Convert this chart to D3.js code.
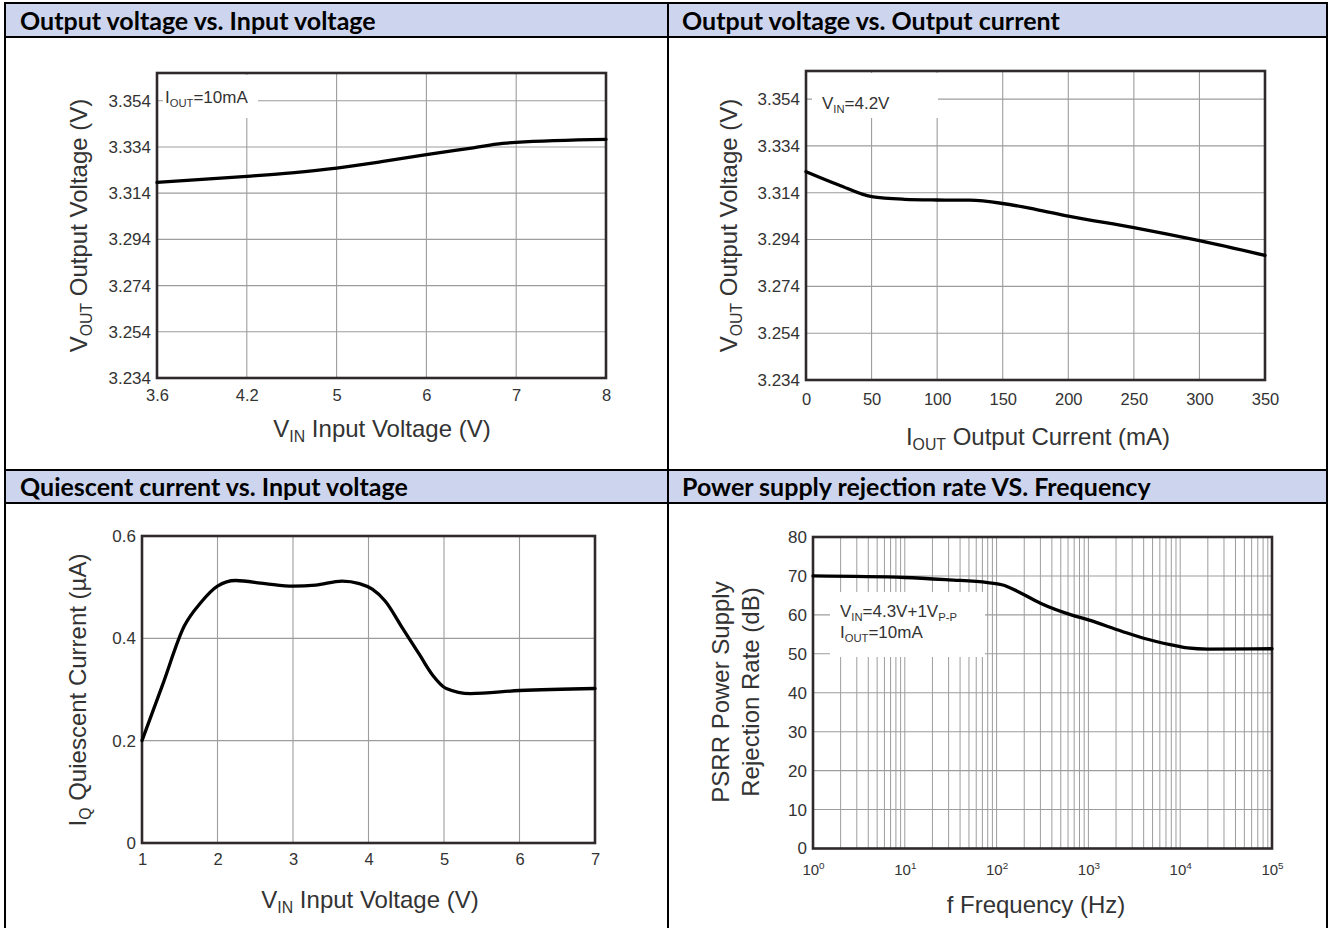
<!DOCTYPE html>
<html>
<head>
<meta charset="utf-8">
<script src="https://cdn.jsdelivr.net/npm/d3@7"></script>
<style>
  body { margin: 0; background: #fff; }
  svg { display: block; }
</style>
</head>
<body>
<svg id="page" width="1330" height="928"></svg>
<script>
// ---- values ----

const headers = [
  "Output voltage vs. Input voltage",
  "Output voltage vs. Output current",
  "Quiescent current vs. Input voltage",
  "Power supply rejection rate VS. Frequency",
];

// shared Vout axis of the two top charts
const voutTicks = [3.234, 3.254, 3.274, 3.294, 3.314, 3.334, 3.354];

// Output voltage vs. Input voltage (IOUT = 10mA)
const vinTicks = [3.6, 4.2, 5, 6, 7, 8];
const vinSweep = [3.6, 4.2, 4.6, 5, 5.5, 6, 6.5, 6.85, 7, 8];
const voutByVin = [3.3187, 3.3213, 3.3228, 3.3248, 3.3276, 3.3307, 3.3335, 3.3355, 3.336, 3.3373];

// Output voltage vs. Output current (VIN = 4.2V)
const ioutTicks = [0, 50, 100, 150, 200, 250, 300, 350];
const ioutSweep = [0, 25, 50, 75, 100, 125, 150, 175, 200, 250, 300, 350];
const voutByIout = [3.323, 3.3173, 3.3123, 3.3112, 3.3109, 3.3108, 3.3094, 3.3069, 3.304, 3.2991, 3.2935, 3.2872];

// Quiescent current vs. Input voltage
const iqVinTicks = [1, 2, 3, 4, 5, 6, 7];
const iqTicks = [0, 0.2, 0.4, 0.6];
const iqVinSweep = [1, 1.27, 1.56, 1.78, 2, 2.24, 2.63, 3, 3.3, 3.65, 3.88, 4.05, 4.22, 4.45, 4.68, 4.85, 5.03, 5.35, 6, 7];
const iqCurrent = [0.2, 0.308, 0.424, 0.47, 0.502, 0.513, 0.507, 0.502, 0.504, 0.512, 0.507, 0.496, 0.473, 0.42, 0.367, 0.328, 0.302, 0.292, 0.298, 0.302];

// PSRR vs. Frequency
const freqDecades = [1, 10, 100, 1000, 10000, 100000];
const psrrTicks = [0, 10, 20, 30, 40, 50, 60, 70, 80];
const freqSweep = [1, 10, 30, 80, 120, 170, 300, 650, 1000, 2300, 4000, 8000, 12000, 20000, 100000];
const psrrValues = [70, 69.6, 69, 68.3, 67.6, 66, 63, 60, 58.7, 55.8, 54, 52.3, 51.5, 51.2, 51.3];

// ---- look ----
const sans = "'Liberation Sans', Arial, Helvetica, sans-serif";
const inkColor = "#333";
const gridColor = "#9d9d9d";
const frameColor = "#2f2929";
const headerFill = "#cdd5ee";

const svg = d3.select("#page");

// text with sub/superscript parts: [{t, sub}, {t, sup}, {t}]
const addParts = (textSel, parts, size) => {
  let shift = 0;
  parts.forEach((p) => {
    let target = p.sub ? size * 0.22 : p.sup ? -size * 0.42 : 0;
    let ts = textSel.append("tspan").text(p.t);
    if (target - shift !== 0) ts.attr("dy", target - shift);
    if (p.sub || p.sup) ts.attr("font-size", size * 0.66);
    shift = target;
  });
};

// ---- table around the charts ----
const tableLeft = 5;
const tableRight = 1327;
const colSplit = 668;
const headerRows = [
  { top: 3, bottom: 37, base: 29.5 },
  { top: 470, bottom: 503, base: 495.5 },
];

const table = svg.append("g").attr("id", "table");

headerRows.forEach((r, ri) => {
  table
    .append("rect")
    .attr("x", tableLeft)
    .attr("y", r.top)
    .attr("width", tableRight - tableLeft)
    .attr("height", r.bottom - r.top)
    .attr("fill", headerFill);

  [r.top, r.bottom].forEach((yy) => {
    table
      .append("line")
      .attr("x1", tableLeft - 1)
      .attr("x2", tableRight + 1)
      .attr("y1", yy)
      .attr("y2", yy)
      .attr("stroke", "#000")
      .attr("stroke-width", 2);
  });

  [20, 682].forEach((tx, ci) => {
    table
      .append("text")
      .attr("x", tx)
      .attr("y", r.base)
      .attr("font-family", "Lato, 'Open Sans', sans-serif")
      .attr("font-weight", "bold")
      .attr("font-size", 25)
      .attr("fill", "#000")
      .text(headers[ri * 2 + ci]);
  });
});

[tableLeft, colSplit, tableRight].forEach((xx) => {
  table
    .append("line")
    .attr("x1", xx)
    .attr("x2", xx)
    .attr("y1", 2)
    .attr("y2", 928)
    .attr("stroke", "#000")
    .attr("stroke-width", 2);
});

// ---- one chart panel ----
const drawChart = (o) => {
  let fr = o.frame;
  let g = svg.append("g").attr("id", o.id);

  // grid
  g.append("g")
    .selectAll("line")
    .data(o.xGrid)
    .enter()
    .append("line")
    .attr("x1", (d) => o.x(d))
    .attr("x2", (d) => o.x(d))
    .attr("y1", fr.top)
    .attr("y2", fr.bottom)
    .attr("stroke", gridColor)
    .attr("stroke-width", o.gridWidth || 1.1);

  g.append("g")
    .selectAll("line")
    .data(o.yGrid)
    .enter()
    .append("line")
    .attr("x1", fr.left)
    .attr("x2", fr.right)
    .attr("y1", (d) => o.y(d))
    .attr("y2", (d) => o.y(d))
    .attr("stroke", gridColor)
    .attr("stroke-width", 1.1);

  // legend box hides the grid behind it
  if (o.legend) {
    let b = o.legend.box;
    g.append("rect")
      .attr("x", b.x)
      .attr("y", b.y)
      .attr("width", b.w)
      .attr("height", b.h)
      .attr("fill", "#fff");
    o.legend.lines.forEach((ln) => {
      let t = g
        .append("text")
        .attr("x", ln.x)
        .attr("y", ln.y)
        .attr("font-family", sans)
        .attr("font-size", 17)
        .attr("fill", inkColor);
      addParts(t, ln.parts, 17);
    });
  }

  // axes (labels only)
  let xAxis = d3
    .axisBottom(o.x)
    .tickValues(o.xTicks)
    .tickSize(0)
    .tickPadding(o.xLabelBase - 0.71 * o.xFont)
    .tickFormat(o.xFormat || ((d) => d));
  let xg = g
    .append("g")
    .attr("transform", `translate(0,${fr.bottom})`)
    .call(xAxis);
  xg.select(".domain").remove();
  xg.selectAll("text")
    .attr("font-family", sans)
    .attr("font-size", o.xFont)
    .attr("fill", inkColor);
  if (o.xSup) {
    xg.selectAll("text").each(function (d) {
      let t = d3.select(this).text("10");
      t.append("tspan")
        .attr("dy", -o.xFont * 0.42)
        .attr("font-size", o.xFont * 0.66)
        .text(Math.round(Math.log10(d)));
    });
  }

  let yAxis = d3
    .axisLeft(o.y)
    .tickValues(o.yTicks)
    .tickSize(0)
    .tickPadding(6)
    .tickFormat(o.yFormat || ((d) => d));
  let yg = g
    .append("g")
    .attr("transform", `translate(${fr.left},0)`)
    .call(yAxis);
  yg.select(".domain").remove();
  yg.selectAll("text")
    .attr("font-family", sans)
    .attr("font-size", o.yFont)
    .attr("fill", inkColor);

  // frame
  g.append("rect")
    .attr("x", fr.left)
    .attr("y", fr.top)
    .attr("width", fr.right - fr.left)
    .attr("height", fr.bottom - fr.top)
    .attr("fill", "none")
    .attr("stroke", frameColor)
    .attr("stroke-width", 2.6);

  // curve
  let line = d3
    .line()
    .x((d) => o.x(d[0]))
    .y((d) => o.y(d[1]))
    .curve(d3.curveMonotoneX);

  g.append("path")
    .datum(o.xs.map((d, i) => [d, o.ys[i]]))
    .attr("d", line)
    .attr("fill", "none")
    .attr("stroke", "#000")
    .attr("stroke-width", 3.3)
    .attr("stroke-linejoin", "round")
    .attr("stroke-linecap", "round");

  // axis titles
  let xt = g
    .append("text")
    .attr("x", o.xTitle.x)
    .attr("y", o.xTitle.y)
    .attr("text-anchor", "middle")
    .attr("font-family", sans)
    .attr("font-size", 24)
    .attr("fill", inkColor);
  addParts(xt, o.xTitle.parts, 24);

  o.yTitle.lines.forEach((ln) => {
    let yt = g
      .append("text")
      .attr("transform", `translate(${ln.x},${o.yTitle.cy}) rotate(-90)`)
      .attr("text-anchor", "middle")
      .attr("font-family", sans)
      .attr("font-size", 24)
      .attr("fill", inkColor);
    addParts(yt, ln.parts, 24);
  });
};

// evenly spaced categorical ticks on a polylinear scale
const evenRange = (ticks, a, b) => ticks.map((d, i) => a + (i * (b - a)) / (ticks.length - 1));

// 1. Output voltage vs. Input voltage
let fr1 = { left: 157, right: 606, top: 73, bottom: 378 };
let x1 = d3.scaleLinear().domain(vinTicks).range(evenRange(vinTicks, fr1.left, fr1.right));
let y1 = d3.scaleLinear().domain([3.234, 3.366]).range([fr1.bottom, fr1.top]);
drawChart({
  id: "vout-vin",
  frame: fr1,
  x: x1,
  y: y1,
  xGrid: vinTicks.slice(1, -1),
  yGrid: voutTicks.slice(1),
  xTicks: vinTicks,
  yTicks: voutTicks,
  yFormat: d3.format(".3f"),
  xFont: 16.5,
  yFont: 17,
  xLabelBase: 23,
  xs: vinSweep,
  ys: voutByVin,
  legend: {
    box: { x: 163, y: 75, w: 95, h: 43 },
    lines: [{ x: 165, y: 103, parts: [{ t: "I" }, { t: "OUT", sub: true }, { t: "=10mA" }] }],
  },
  xTitle: { x: 382, y: 437, parts: [{ t: "V" }, { t: "IN", sub: true }, { t: " Input Voltage (V)" }] },
  yTitle: {
    cy: 225.5,
    lines: [{ x: 87, parts: [{ t: "V" }, { t: "OUT", sub: true }, { t: " Output Voltage (V)" }] }],
  },
});

// 2. Output voltage vs. Output current
let fr2 = { left: 806, right: 1265, top: 71, bottom: 380 };
let x2 = d3.scaleLinear().domain([0, 350]).range([fr2.left, fr2.right]);
let y2 = d3.scaleLinear().domain([3.234, 3.366]).range([fr2.bottom, fr2.top]);
drawChart({
  id: "vout-iout",
  frame: fr2,
  x: x2,
  y: y2,
  xGrid: ioutTicks.slice(1, -1),
  yGrid: voutTicks.slice(1),
  xTicks: ioutTicks,
  yTicks: voutTicks,
  yFormat: d3.format(".3f"),
  xFont: 16.5,
  yFont: 17,
  xLabelBase: 25,
  xs: ioutSweep,
  ys: voutByIout,
  legend: {
    box: { x: 812, y: 73, w: 126, h: 45 },
    lines: [{ x: 822, y: 109, parts: [{ t: "V" }, { t: "IN", sub: true }, { t: "=4.2V" }] }],
  },
  xTitle: { x: 1038, y: 445, parts: [{ t: "I" }, { t: "OUT", sub: true }, { t: " Output Current (mA)" }] },
  yTitle: {
    cy: 225.5,
    lines: [{ x: 737, parts: [{ t: "V" }, { t: "OUT", sub: true }, { t: " Output Voltage (V)" }] }],
  },
});

// 3. Quiescent current vs. Input voltage
let fr3 = { left: 142, right: 595, top: 536, bottom: 843 };
let x3 = d3.scaleLinear().domain([1, 7]).range([fr3.left, fr3.right]);
let y3 = d3.scaleLinear().domain([0, 0.6]).range([fr3.bottom, fr3.top]);
drawChart({
  id: "iq-vin",
  frame: fr3,
  x: x3,
  y: y3,
  xGrid: iqVinTicks.slice(1, -1),
  yGrid: iqTicks.slice(1, -1),
  xTicks: iqVinTicks,
  yTicks: iqTicks,
  xFont: 16.5,
  yFont: 17,
  xLabelBase: 22,
  xs: iqVinSweep,
  ys: iqCurrent,
  xTitle: { x: 370, y: 908, parts: [{ t: "V" }, { t: "IN", sub: true }, { t: " Input Voltage (V)" }] },
  yTitle: {
    cy: 690,
    lines: [{ x: 86, parts: [{ t: "I" }, { t: "Q", sub: true }, { t: " Quiescent Current (µA)" }] }],
  },
});

// 4. PSRR vs. Frequency
let fr4 = { left: 813, right: 1272, top: 537, bottom: 848.5 };
let x4 = d3.scaleLog().domain([1, 100000]).range([fr4.left, fr4.right]);
let y4 = d3.scaleLinear().domain([0, 80]).range([fr4.bottom, fr4.top]);
drawChart({
  id: "psrr-freq",
  frame: fr4,
  x: x4,
  y: y4,
  xGrid: x4.ticks().filter((d) => d > 1 && d < 100000),
  yGrid: psrrTicks.slice(1, -1),
  xTicks: freqDecades,
  yTicks: psrrTicks,
  xSup: true,
  xFont: 15,
  yFont: 17,
  xLabelBase: 26.5,
  gridWidth: 1,
  xs: freqSweep,
  ys: psrrValues,
  legend: {
    box: { x: 830, y: 592, w: 155, h: 65 },
    lines: [
      { x: 840, y: 617, parts: [{ t: "V" }, { t: "IN", sub: true }, { t: "=4.3V+1V" }, { t: "P-P", sub: true }] },
      { x: 840, y: 638, parts: [{ t: "I" }, { t: "OUT", sub: true }, { t: "=10mA" }] },
    ],
  },
  xTitle: { x: 1036, y: 913, parts: [{ t: "f Frequency (Hz)" }] },
  yTitle: {
    cy: 692,
    lines: [
      { x: 729, parts: [{ t: "PSRR Power Supply" }] },
      { x: 759, parts: [{ t: "Rejection Rate (dB)" }] },
    ],
  },
});
</script>
</body>
</html>
